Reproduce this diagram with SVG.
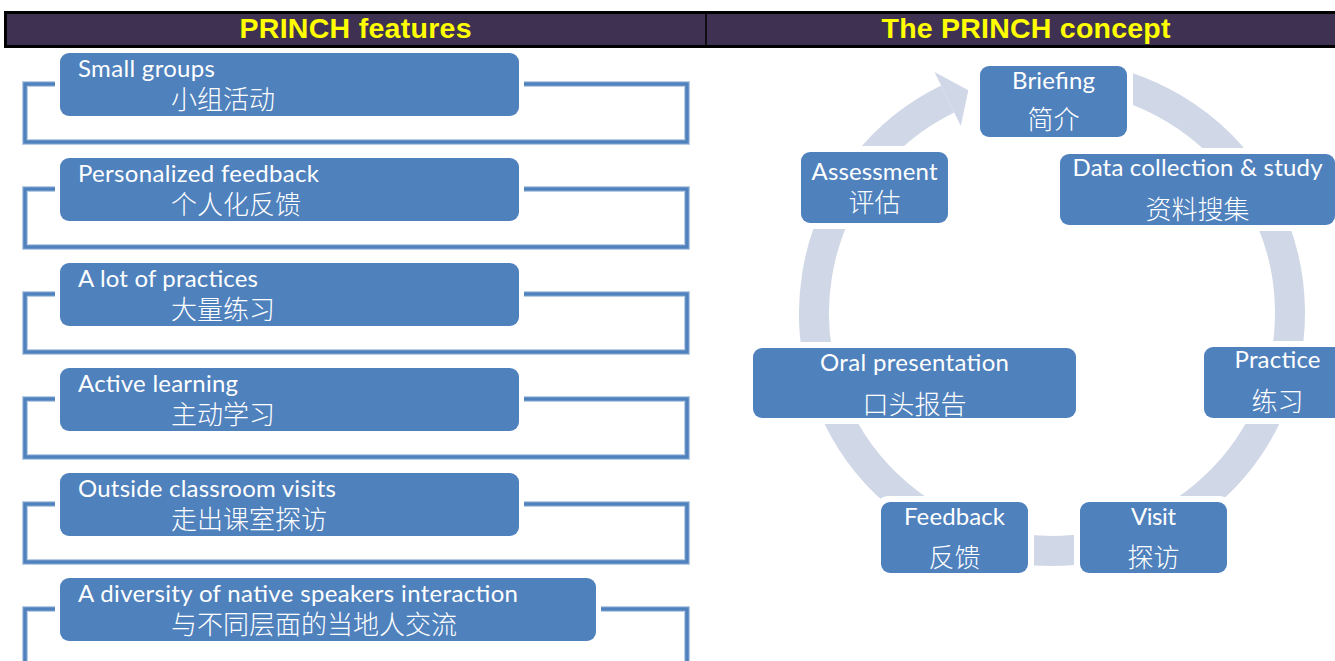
<svg xmlns="http://www.w3.org/2000/svg" width="1335" height="661" viewBox="0 0 1335 661">
<defs>
<style>
.hdr{fill:#3F3151;stroke:#000000;stroke-width:3}
.ttl{font-family:"Liberation Sans",Arial,sans-serif;font-weight:bold;font-size:28.5px;fill:#FFFF00;text-anchor:middle}
.box{fill:#4F81BD}
.halo{fill:#FFFFFF}
.en{font-family:Lato,"Open Sans","Noto Sans",sans-serif;font-size:24px;fill:#FFFFFF}
.zh{font-family:"Noto Sans CJK SC",sans-serif;font-size:26px;font-weight:300;fill:#FFFFFF}
.mid{text-anchor:middle}
.brk-edge{fill:none;stroke:#B8CCE4;stroke-width:6}
.brk{fill:none;stroke:#4F81BD;stroke-width:3.5}
.ring{fill:none;stroke:#D0D8E8;stroke-width:30}
.head{fill:#D0D8E8}
</style>
</defs>
<rect x="0" y="0" width="1335" height="661" fill="#FFFFFF"/>

<g id="header">
<rect class="hdr" x="5.5" y="12.5" width="1345" height="34"/>
<line x1="706" y1="12.5" x2="706" y2="46.5" stroke="#000000" stroke-width="1.5"/>
<text class="ttl" x="355.5" y="38.3" textLength="232">PRINCH features</text>
<text class="ttl" x="1026" y="38.3" textLength="289">The PRINCH concept</text>
</g>

<g id="connectors">
<g id="brackets">
<rect class="brk-edge" x="25" y="84" width="662" height="58"/>
<rect class="brk" x="25" y="84" width="662" height="58"/>
<rect class="brk-edge" x="25" y="189" width="662" height="58"/>
<rect class="brk" x="25" y="189" width="662" height="58"/>
<rect class="brk-edge" x="25" y="294" width="662" height="58"/>
<rect class="brk" x="25" y="294" width="662" height="58"/>
<rect class="brk-edge" x="25" y="399" width="662" height="58"/>
<rect class="brk" x="25" y="399" width="662" height="58"/>
<rect class="brk-edge" x="25" y="504" width="662" height="58"/>
<rect class="brk" x="25" y="504" width="662" height="58"/>
<rect class="brk-edge" x="25" y="609" width="662" height="58"/>
<rect class="brk" x="25" y="609" width="662" height="58"/>
</g>
<g id="cycle">
<path class="ring" d="M 1072.74 75.91 A 238 238 0 1 1 947.67 99.09"/>
<polygon class="head" points="934.5,72.1 968.3,90.2 960.8,126.05"/>
</g>
</g>

<g id="feature-small-groups">
<rect class="halo" x="55" y="48" width="469" height="73" rx="13"/>
<rect class="box" x="60" y="53" width="459" height="63" rx="9"/>
<text class="en" x="78" y="77.3" textLength="137">Small groups</text>
<text class="zh" x="171" y="109">小组活动</text>
</g>
<g id="feature-personalized-feedback">
<rect class="halo" x="55" y="153" width="469" height="73" rx="13"/>
<rect class="box" x="60" y="158" width="459" height="63" rx="9"/>
<text class="en" x="78" y="182.3" textLength="241">Personalized feedback</text>
<text class="zh" x="171" y="214">个人化反馈</text>
</g>
<g id="feature-practices">
<rect class="halo" x="55" y="258" width="469" height="73" rx="13"/>
<rect class="box" x="60" y="263" width="459" height="63" rx="9"/>
<text class="en" x="78" y="287.3" textLength="180">A lot of practices</text>
<text class="zh" x="171" y="319">大量练习</text>
</g>
<g id="feature-active-learning">
<rect class="halo" x="55" y="363" width="469" height="73" rx="13"/>
<rect class="box" x="60" y="368" width="459" height="63" rx="9"/>
<text class="en" x="78" y="392.3" textLength="160">Active learning</text>
<text class="zh" x="171" y="424">主动学习</text>
</g>
<g id="feature-visits">
<rect class="halo" x="55" y="468" width="469" height="73" rx="13"/>
<rect class="box" x="60" y="473" width="459" height="63" rx="9"/>
<text class="en" x="78" y="497.3" textLength="258">Outside classroom visits</text>
<text class="zh" x="171" y="529">走出课室探访</text>
</g>
<g id="feature-native-speakers">
<rect class="halo" x="55" y="573" width="546" height="73" rx="13"/>
<rect class="box" x="60" y="578" width="536" height="63" rx="9"/>
<text class="en" x="78" y="602.3" textLength="440">A diversity of native speakers interaction</text>
<text class="zh" x="171" y="634">与不同层面的当地人交流</text>
</g>

<g id="node-briefing">
<rect class="halo" x="974" y="60" width="159" height="83" rx="14"/>
<rect class="box" x="980" y="66" width="147" height="71" rx="9"/>
<text class="en mid" x="1053.5" y="88.5" textLength="83">Briefing</text>
<text class="zh mid" x="1053.5" y="129">简介</text>
</g>
<g id="node-data-collection">
<rect class="halo" x="1054" y="148" width="287" height="83" rx="14"/>
<rect class="box" x="1060" y="154" width="275" height="71" rx="9"/>
<text class="en mid" x="1197.5" y="176" textLength="250">Data collection &amp; study</text>
<text class="zh mid" x="1197.5" y="218.5">资料搜集</text>
</g>
<g id="node-practice">
<rect class="halo" x="1198" y="341" width="159" height="83" rx="14"/>
<rect class="box" x="1204" y="347" width="147" height="71" rx="9"/>
<text class="en mid" x="1277.5" y="368.3" textLength="86">Practice</text>
<text class="zh mid" x="1277.5" y="410.5">练习</text>
</g>
<g id="node-visit">
<rect class="halo" x="1074" y="496" width="159" height="83" rx="14"/>
<rect class="box" x="1080" y="502" width="147" height="71" rx="9"/>
<text class="en mid" x="1153.5" y="525" textLength="45">Visit</text>
<text class="zh mid" x="1153.5" y="567">探访</text>
</g>
<g id="node-feedback">
<rect class="halo" x="875" y="496" width="159" height="83" rx="14"/>
<rect class="box" x="881" y="502" width="147" height="71" rx="9"/>
<text class="en mid" x="954.5" y="525" textLength="101">Feedback</text>
<text class="zh mid" x="954.5" y="567">反馈</text>
</g>
<g id="node-oral-presentation">
<rect class="halo" x="747" y="342" width="335" height="82" rx="14"/>
<rect class="box" x="753" y="348" width="323" height="70" rx="9"/>
<text class="en mid" x="914.5" y="370.7" textLength="189">Oral presentation</text>
<text class="zh mid" x="914.5" y="414">口头报告</text>
</g>
<g id="node-assessment">
<rect class="halo" x="795" y="146" width="159" height="83" rx="14"/>
<rect class="box" x="801" y="152" width="147" height="71" rx="9"/>
<text class="en mid" x="874.5" y="180" textLength="126">Assessment</text>
<text class="zh mid" x="874.5" y="211.5">评估</text>
</g>
</svg>
